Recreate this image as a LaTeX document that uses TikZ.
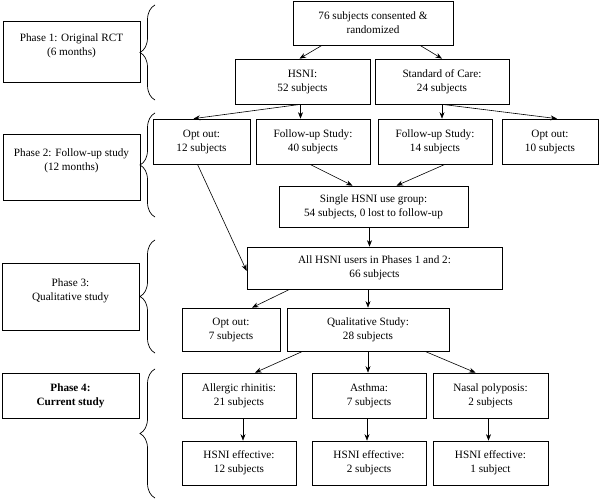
\documentclass[tikz,border=0pt]{standalone}
\usepackage{fontspec}
\setmainfont{Liberation Serif}
\usetikzlibrary{arrows.meta,decorations.pathreplacing}

\begin{document}
\begin{tikzpicture}[x=1pt,y=-1pt,
  box/.style={draw, line width=0.7pt, align=center, inner sep=0pt,
    minimum height=45pt, font=\fontsize{11.2}{14}\selectfont},
  arr/.style={-{Stealth[length=6.5pt,width=5pt]}, line width=0.6pt},
  brc/.style={decorate, decoration={brace, amplitude=15pt}, line width=0.7pt}]

\useasboundingbox (0,0) rectangle (600,500);

% phases
\node [box, minimum width=137pt, minimum height=61pt] (p1) at (71.5,51.5) {Phase 1: Original RCT\\(6 months)\\\mbox{}};
\node [box, minimum width=137pt, minimum height=66pt] (p2) at (71.5,167) {Phase 2: Follow-up study\\(12 months)\\\mbox{}};
\node [box, minimum width=137pt, minimum height=67pt] (p3) at (70.5,296.5) {Phase 3:\\Qualitative study\\\mbox{}};
\node [box, minimum width=137pt] (p4) at (70.5,395.5) {\textbf{Phase 4:}\\\textbf{Current study}};

\draw [brc] (155,100) -- (155,5);
\draw [brc] (155,217) -- (155,113);
\draw [brc] (155,353) -- (155,240);
\draw [brc] (155,498) -- (155,369);

% flow
\node [box, minimum width=160pt, minimum height=44pt] (top) at (373,23) {76 subjects consented \&\\randomized};
\node [box, minimum width=135pt] (hsni) at (302.5,81.5) {HSNI:\\52 subjects};
\node [box, minimum width=134pt] (soc) at (442,81.5) {Standard of Care:\\24 subjects};

\node [box, minimum width=97pt] (opt1) at (201.5,141.5) {Opt out:\\12 subjects};
\node [box, minimum width=114pt] (fu40) at (313,141.5) {Follow-up Study:\\40 subjects};
\node [box, minimum width=114pt] (fu14) at (435,141.5) {Follow-up Study:\\14 subjects};
\node [box, minimum width=96pt] (opt2) at (550,141.5) {Opt out:\\10 subjects};

\node [box, minimum width=189pt, minimum height=41pt] (single) at (373.5,206.5) {Single HSNI use group:\\54 subjects, 0 lost to follow-up};
\node [box, minimum width=255pt, minimum height=42pt] (all) at (374.5,268) {All HSNI users in Phases 1 and 2:\\66 subjects};

\node [box, minimum width=98pt, minimum height=43pt] (opt3) at (231,329.5) {Opt out:\\7 subjects};
\node [box, minimum width=162pt, minimum height=43pt] (qual) at (368,329.5) {Qualitative Study:\\28 subjects};

\node [box, minimum width=114pt] (allerg) at (239,395.5) {Allergic rhinitis:\\21 subjects};
\node [box, minimum width=114pt] (asthma) at (369,395.5) {Asthma:\\7 subjects};
\node [box, minimum width=115pt] (nasal) at (490.5,395.5) {Nasal polyposis:\\2 subjects};

\node [box, minimum width=114pt, minimum height=44pt] (eff1) at (239,463) {HSNI effective:\\12 subjects};
\node [box, minimum width=114pt, minimum height=44pt] (eff2) at (369,463) {HSNI effective:\\2 subjects};
\node [box, minimum width=115pt, minimum height=44pt] (eff3) at (490.5,463) {HSNI effective:\\1 subject};

\draw [arr] ([xshift=-51pt]top.south) -- ([xshift=-3pt]hsni.north);
\draw [arr] ([xshift=47pt]top.south) -- (soc.north);
\draw [arr] ([xshift=-2pt]hsni.south) -- ([xshift=-8pt]opt1.north);
\draw [arr] ([xshift=-2pt]hsni.south) -- ([xshift=-2pt]hsni.south |- fu40.north);
\draw [arr] (soc.south) -- (soc.south |- fu14.north);
\draw [arr] (soc.south) -- ([xshift=7pt]opt2.north);
\draw [arr] ([xshift=-3pt]fu40.south) -- ([xshift=-21pt]single.north);
\draw [arr] ([xshift=10pt]fu14.south) -- ([xshift=23pt]single.north);
\draw [arr] ([xshift=-4pt]opt1.south) -- ([yshift=-3pt]all.west);
\draw [arr] ([xshift=-4pt]single.south) -- ([xshift=-4pt]single.south |- all.north);
\draw [arr] ([xshift=43pt]all.south west) -- ([xshift=21pt]opt3.north);
\draw [arr] (qual.north |- all.south) -- (qual.north);
\draw [arr] ([xshift=16pt]qual.south west) -- ([xshift=16pt]allerg.north);
\draw [arr] (qual.south) -- (qual.south |- asthma.north);
\draw [arr] ([xshift=57pt]qual.south) -- ([xshift=-15pt]nasal.north);
\draw [arr] ([xshift=4pt]allerg.south) -- ([xshift=4pt]allerg.south |- eff1.north);
\draw [arr] ([xshift=-2pt]asthma.south) -- ([xshift=-2pt]asthma.south |- eff2.north);
\draw [arr] ([xshift=-2pt]nasal.south) -- ([xshift=-2pt]nasal.south |- eff3.north);
\end{tikzpicture}
\end{document}
